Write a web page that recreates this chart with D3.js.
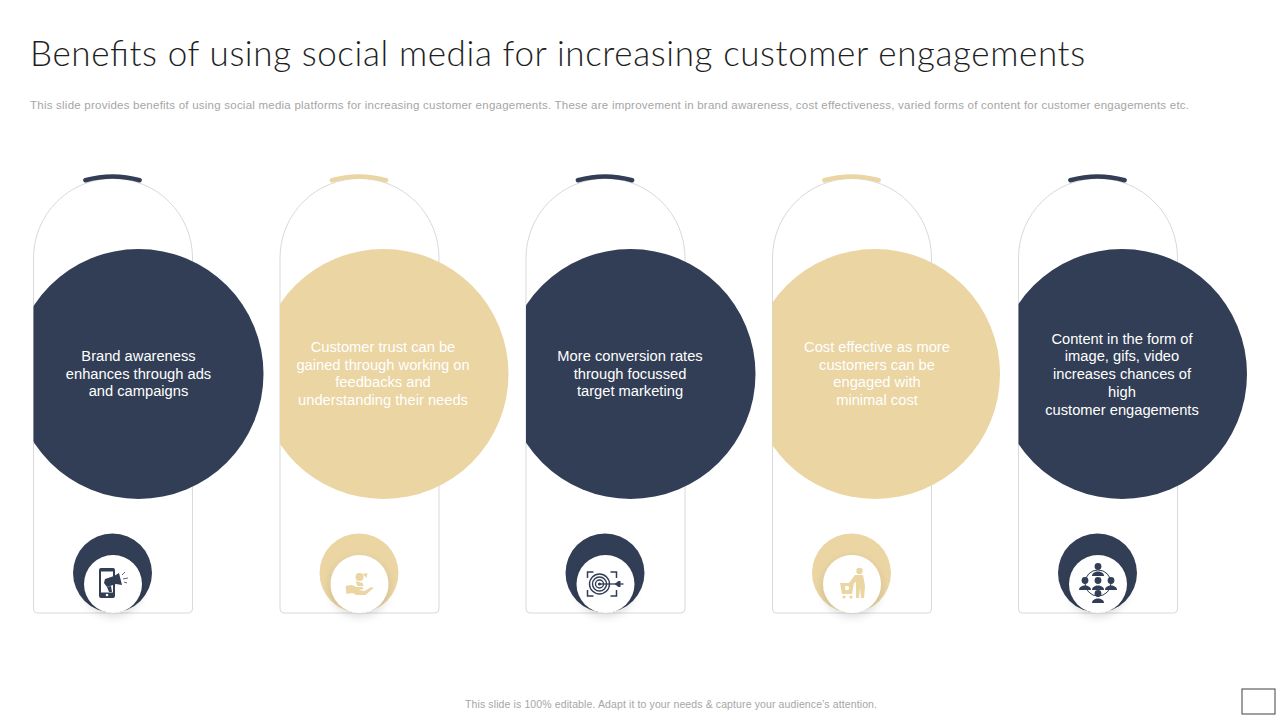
<!DOCTYPE html>
<html><head><meta charset="utf-8">
<script src="https://cdn.jsdelivr.net/npm/d3@7/dist/d3.min.js"></script>
<style>html,body{margin:0;padding:0;background:#fff}svg{display:block}text{font-family:"Liberation Sans",Arial,sans-serif}</style>
</head><body><svg id="c" width="1280" height="720"></svg>
<script>
const titleText = "Benefits of using social media for increasing customer engagements";
const subtitleText = "This slide provides benefits of using social media platforms for increasing customer engagements. These are improvement in brand awareness, cost effectiveness, varied forms of content for customer engagements etc.";
const footerText = "This slide is 100% editable.  Adapt it to your needs & capture your audience’s attention.";
const cardLefts = [33, 279.5, 525.5, 772, 1018];
const bigCentres = [138.5, 383.5, 630.5, 875, 1122];
const textCentres = [138.5, 383, 630, 877, 1122];
const tones = ["navy", "tan", "navy", "tan", "navy"];
const icons = ["phone", "hand", "target", "cart", "people"];
const cardTexts = [
  ["Brand awareness", "enhances through ads", "and campaigns"],
  ["Customer trust can be", "gained through working on", "feedbacks and", "understanding their needs"],
  ["More conversion rates", "through focussed", "target marketing"],
  ["Cost effective as more", "customers can be", "engaged with", "minimal cost"],
  ["Content in the form of", "image, gifs, video", "increases chances of", "high", "customer engagements"]
];
const palette = {navy: "#323e55", tan: "#ead5a3"};
const cards = cardLefts.map((x, i) => ({x, cx: bigCentres[i], tx: textCentres[i], tone: palette[tones[i]], icon: icons[i], lines: cardTexts[i], i}));

const W = 160, archR = 80, archTop = 178, cardBottom = 613, bigR = 125, bigCy = 374;
const svg = d3.select("#c");
const defs = svg.append("defs");
const blur = defs.append("filter").attr("id", "sh").attr("x", "-40%").attr("y", "-40%").attr("width", "180%").attr("height", "180%");
blur.append("feDropShadow").attr("dx", 0).attr("dy", 4).attr("stdDeviation", 4).attr("flood-color", "#000").attr("flood-opacity", 0.13);

svg.append("text").attr("x", 30).attr("y", 66).attr("font-size", 35).attr("font-weight", 300).style("font-family", "Lato,sans-serif").attr("fill", "#1f1f1f").attr("textLength", 1055).attr("lengthAdjust", "spacing").text(titleText);
svg.append("text").attr("x", 30).attr("y", 108.5).attr("font-size", 11.5).attr("fill", "#a6a6a6").attr("textLength", 1159).attr("lengthAdjust", "spacing").text(subtitleText);
svg.append("text").attr("x", 465).attr("y", 707.5).attr("font-size", 10.5).attr("fill", "#a6a6a6").attr("textLength", 412).attr("lengthAdjust", "spacing").text(footerText);
svg.append("rect").attr("x", 1242).attr("y", 689).attr("width", 33).attr("height", 25).attr("fill", "#fff").attr("stroke", "#404040").attr("stroke-width", 1);

const capR = 100;
const g = svg.selectAll("g.card").data(cards).join("g").attr("class", "card");

g.append("path").attr("fill", "#fff").attr("stroke", "#d9d9d9").attr("stroke-width", 1)
  .attr("d", d => {
    const p = d3.path(), l = d.x + 0.5, r = d.x + W - 0.5, cy = archTop + archR;
    p.moveTo(l, cy);
    p.arc(l + archR - 0.5, cy, archR - 0.5, Math.PI, 2 * Math.PI);
    p.lineTo(r, cardBottom - 4);
    p.quadraticCurveTo(r, cardBottom, r - 4, cardBottom);
    p.lineTo(l + 4, cardBottom);
    p.quadraticCurveTo(l, cardBottom, l, cardBottom - 4);
    p.closePath();
    return p.toString();
  });

g.append("path").attr("fill", "none").attr("stroke", d => d.tone).attr("stroke-width", 4.5).attr("stroke-linecap", "round")
  .attr("transform", d => `translate(${d.x + archR - 0.5},${176.5 + capR})`)
  .attr("d", d => {
    const p = d3.path();
    p.arc(0, 0, capR, -Math.PI / 2 - 0.275, -Math.PI / 2 + 0.275);
    return p.toString();
  });

cards.forEach((d, i) => {
  defs.append("clipPath").attr("id", "cl" + i).append("rect").attr("x", d.x + 0.5).attr("y", 0).attr("width", 1280 - d.x).attr("height", 720);
});
g.append("circle").attr("cx", d => d.cx).attr("cy", bigCy).attr("r", bigR).attr("fill", d => d.tone).attr("clip-path", d => `url(#cl${d.i})`);

g.each(function(d) {
  const t = d3.select(this).append("text").attr("text-anchor", "middle").attr("font-size", 14.7).attr("fill", "#fff");
  const n = d.lines.length, lh = 17.75, y0 = bigCy + 4.5 - (n - 1) * lh / 2 + (n === 5 ? 0.6 : 0);
  d.lines.forEach((s, k) => t.append("tspan").attr("x", d.tx).attr("y", y0 + k * lh).text(s));
});

g.append("circle").attr("cx", d => d.x + archR - 0.5).attr("cy", 573).attr("r", 39.5).attr("fill", d => d.tone);
g.append("circle").attr("cx", d => d.x + archR).attr("cy", 584).attr("r", 29).attr("fill", "#fff").attr("filter", "url(#sh)");

const draw = {
  phone(s, c) {
    s.append("rect").attr("x", -14).attr("y", -16).attr("width", 16).attr("height", 30).attr("rx", 2).attr("fill", c);
    s.append("rect").attr("x", -12).attr("y", -12.5).attr("width", 12).attr("height", 21).attr("fill", "#fff");
    s.append("circle").attr("cx", -6).attr("cy", 11).attr("r", 1.3).attr("fill", "#fff");
    s.append("path").attr("fill", c).attr("d", "M-8,-5 L1,-8 L6,-11 L9,1 L3,0 L-6,3 L-9,-1 Z");
    s.append("path").attr("fill", c).attr("d", "M-6,3 L-2,2 L-1,8 L-4,8 Z");
    s.append("path").attr("stroke", c).attr("stroke-width", 0.8).attr("d", "M9,-9 L12,-12 M10,-5 L15,-6 M11,-2 L14,-1");
  },
  hand(s, c) {
    s.append("path").attr("fill", c).attr("d", "M-14,2 L-8,1 L-3,3 L3,3 L4,5 L-1,6 L5,7 L12,3 L14,4 L6,11 L-3,11 L-7,9 L-13,10 Z");
    s.append("circle").attr("cx", 0).attr("cy", -7).attr("r", 4).attr("fill", c);
    s.append("path").attr("fill", c).attr("d", "M-4,-3 L3,-1 L4,2 L-2,2 Z M3,-10 L8,-11 L7,-6 Z");
  },
  target(s, c) {
    s.append("path").attr("fill", "none").attr("stroke", c).attr("stroke-width", 1.5)
      .attr("d", "M-18,-6 V-12 H-12 M5,-12 H11 V-6 M11,6 V12 H5 M-12,12 H-18 V6");
    [10, 7, 4].forEach(r => s.append("circle").attr("cx", -6).attr("cy", 0).attr("r", r).attr("fill", "none").attr("stroke", c).attr("stroke-width", 1.4));
    s.append("circle").attr("cx", -6).attr("cy", 0).attr("r", 1.6).attr("fill", c);
    s.append("path").attr("stroke", c).attr("stroke-width", 1.3).attr("d", "M-6,0 H18");
    s.append("path").attr("fill", c).attr("d", "M9,0 L13,-3 H15 V3 H13 Z");
  },
  cart(s, c) {
    s.append("circle").attr("cx", 7.5).attr("cy", -13).attr("r", 3.2).attr("fill", c);
    s.append("path").attr("fill", c).attr("d", "M3,-9 H11 L13,2 L12,14 H9 L8,4 L7,14 H4 L4,-2 L-2,1 L-3,-1 Z");
    s.append("path").attr("fill", c).attr("d", "M-12,-1 H2 L0,10 H-10 Z");
    s.append("circle").attr("cx", -8).attr("cy", 13).attr("r", 1.6).attr("fill", c);
    s.append("circle").attr("cx", -1).attr("cy", 13).attr("r", 1.6).attr("fill", c);
    s.append("circle").attr("cx", -5).attr("cy", 4).attr("r", 2.2).attr("fill", "#fff");
  },
  people(s, c) {
    s.append("circle").attr("r", 13).attr("cy", -1).attr("cx", 0).attr("fill", "none").attr("stroke", c).attr("stroke-width", 1);
    [[0, -13], [-13, 1], [0, 1], [13, 1], [0, 14]].forEach(([x, y]) => {
      const p = s.append("g").attr("transform", `translate(${x},${y})`);
      p.append("circle").attr("cy", -4.5).attr("r", 3.4).attr("fill", c);
      p.append("path").attr("fill", c).attr("d", "M-6,5 C-6,-1 6,-1 6,5 Z");
    });
  }
};
g.append("g").attr("transform", d => `translate(${d.x + archR},584)`)
  .each(function(d) { draw[d.icon](d3.select(this), d.tone); });
</script></body></html>
